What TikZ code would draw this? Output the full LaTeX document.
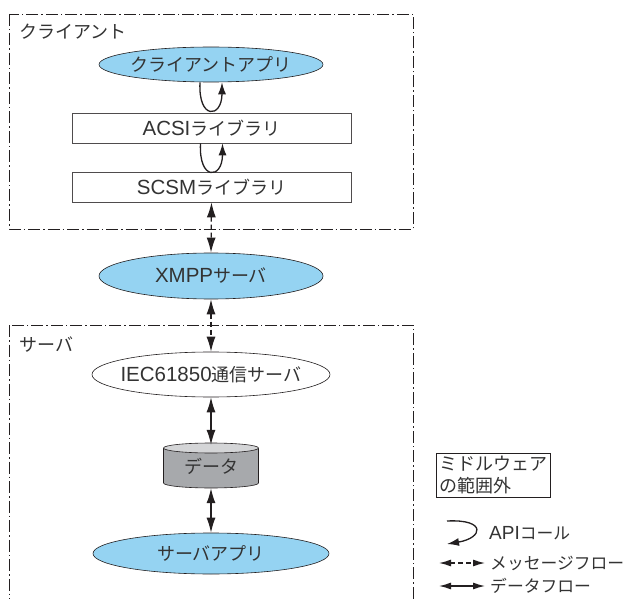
\documentclass[tikz,border=0pt]{standalone}
\usepackage{fontspec}
\setmainfont{Noto Sans CJK JP}
\newfontfamily\latfont{Liberation Sans}
\newcommand\lat[1]{{\latfont\fontsize{20.5}{20}\selectfont #1}}
\newcommand\latsm[1]{{\latfont\fontsize{19}{19}\selectfont #1}}
\usetikzlibrary{shapes.geometric,arrows.meta}
\definecolor{ink}{HTML}{231F20}
\definecolor{txt}{HTML}{333333}
\definecolor{appblue}{HTML}{95D3F2}
\definecolor{cylbody}{HTML}{A7A9AC}
\definecolor{cyltop}{HTML}{D4D5D7}
\tikzset{
  every node/.style={font=\fontsize{18}{22}\selectfont, text=txt},
  legtext/.style={font=\fontsize{16.8}{20}\selectfont, inner sep=0pt, anchor=west},
  frame/.style={draw=ink, line width=0.7pt, dash pattern=on 12pt off 3pt on 1.5pt off 3pt},
  appell/.style={ellipse, draw=ink, line width=0.6pt, fill=appblue, inner sep=0pt},
  whiteell/.style={ellipse, draw=ink, line width=0.6pt, fill=white, inner sep=0pt},
  libbox/.style={rectangle, draw=ink!80, line width=0.6pt, fill=white, minimum width=279pt, minimum height=30pt, inner sep=0pt},
  bigtip/.style={{Latex[length=15pt,width=9pt]}-{Latex[length=15pt,width=9pt]}},
  smalltip/.style={{Latex[length=12pt,width=7pt]}-{Latex[length=12pt,width=7pt]}},
  msgflow/.style={bigtip, draw=ink, line width=1.3pt, dash pattern=on 5pt off 3pt},
  dataflow/.style={bigtip, draw=ink, line width=1.3pt},
  legmsg/.style={smalltip, draw=ink, line width=1.3pt, dash pattern=on 5pt off 3pt},
  legdata/.style={smalltip, draw=ink, line width=1.3pt},
  apicall/.style={-{Latex[length=12pt,width=8pt]}, draw=ink, line width=1.3pt},
}
\begin{document}
\begin{tikzpicture}[x=1pt,y=-1pt]
\useasboundingbox (0,0) rectangle (627,599);
\clip (0,0) rectangle (627,599);
\fill[white] (0,0) rectangle (627,599);
% frames
\draw[frame] (9,14) rectangle (413,229);
\draw[frame] (9,325) rectangle (413,640);
\node[anchor=west] (clientlbl) at (16,32) {クライアント};
\node[anchor=west] (serverlbl) at (16,345) {サーバ};
% client side
\node[appell, minimum width=224pt, minimum height=35pt] (capp) at (211,64.5) {};
\node (capptxt) at (capp) {クライアントアプリ};
\node[libbox] (acsi) at (211.5,128) {\lat{ACSI}ライブラリ};
\node[libbox] (scsm) at (211.5,187) {\lat{SCSM}ライブラリ};
% xmpp
\node[appell, minimum width=224pt, minimum height=46pt] (xmpp) at (211,276) {};
\node (xmpptxt) at (xmpp) {\lat{XMPP}サーバ};
% server side
\node[whiteell, minimum width=238pt, minimum height=45pt] (iec) at (211,374.5) {};
\node (iectxt) at (iec) {\lat{IEC61850}通信サーバ};
% data cylinder
\draw[ink, line width=0.6pt, fill=cylbody] (211,483) ellipse (47.5pt and 5pt);
\fill[cylbody] (163.5,448) rectangle (258.5,483);
\draw[ink, line width=0.6pt] (163.5,448) -- (163.5,483) (258.5,448) -- (258.5,483);
\draw[ink, line width=0.6pt, fill=cyltop] (211,448) ellipse (47.5pt and 5pt);
\node[minimum width=95pt, minimum height=45pt, inner sep=0pt] (data) at (211,466.5) {データ};
\node[appell, minimum width=236pt, minimum height=41pt] (sapp) at (211,553.5) {};
\node (sapptxt) at (sapp) {サーバアプリ};
% API call loops
\draw[apicall] ([xshift=-11pt]capp.south) .. controls +(-2,38) and +(0,36) .. ([xshift=11pt]capp.south);
\draw[apicall] ([xshift=-11pt]acsi.south) .. controls +(-2,38) and +(0,36) .. ([xshift=11pt]acsi.south);
% flows
\draw[msgflow] (scsm.south) -- (xmpp.north);
\draw[msgflow] (xmpp.south) -- (iec.north);
\draw[dataflow] (iec.south) -- ([yshift=-1pt]data.north);
\draw[dataflow] ([yshift=1pt]data.south) -- (sapp.north);
% legend
\node[draw=ink, line width=0.6pt, align=left, inner sep=3pt, anchor=north west] (scope) at (436,453) {ミドルウェア\\の範囲外};
\coordinate (apiA) at (447,521);
\coordinate (apiB) at (447,544);
\draw[apicall] (apiA) .. controls +(40,-2) and +(36,-6) .. (apiB);
\node[legtext] (apilbl) at (489,533) {\latsm{API}コール};
\coordinate (msgA) at (439,563);
\coordinate (msgB) at (485,563);
\draw[legmsg] (msgA) -- (msgB);
\node[legtext] (msglbl) at (490,563) {メッセージフロー};
\coordinate (datA) at (439,586);
\coordinate (datB) at (485,586);
\draw[legdata] (datA) -- (datB);
\node[legtext] (datlbl) at (490,586) {データフロー};
\end{tikzpicture}
\end{document}
